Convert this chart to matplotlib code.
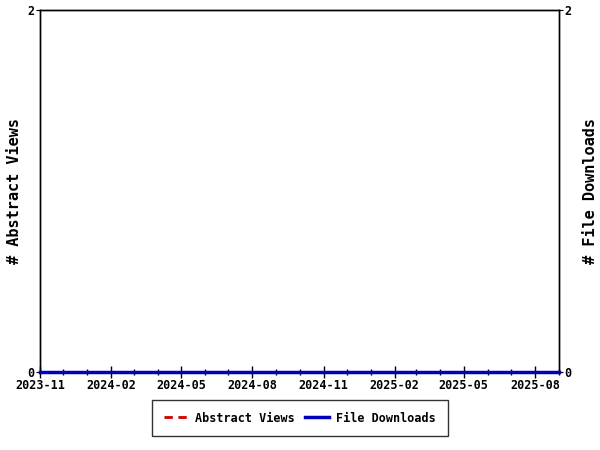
import matplotlib
matplotlib.use("Agg")
import matplotlib.pyplot as plt
import matplotlib.dates as mdates
import pandas as pd

# monthly counts (all zero in the reference)
months = pd.date_range("2023-11-01", "2025-09-01", freq="MS")
abstract_views = [0] * len(months)
file_downloads = [0] * len(months)

plt.rcParams["font.family"] = "DejaVu Sans Mono"
plt.rcParams["font.weight"] = "bold"

fig = plt.figure(figsize=(6, 4.5), dpi=100)
ax = fig.add_axes([40 / 600, 1 - 372 / 450, 519 / 600, 362 / 450])
ax2 = ax.twinx()

l1, = ax.plot(months, abstract_views, color="#cc0000", lw=2, ls=(0, (3, 2)),
              label="Abstract Views", clip_on=False, zorder=5)
l2, = ax2.plot(months, file_downloads, color="#0000bb", lw=2.5,
               label="File Downloads", clip_on=False, zorder=5)

ax.set_xlim(months[0], months[-1])
ax.set_ylim(0, 2)
ax2.set_ylim(0, 2)
ax.set_yticks([0, 2])
ax2.set_yticks([0, 2])

ax.xaxis.set_major_locator(mdates.MonthLocator(bymonth=[2, 5, 8, 11]))
ax.xaxis.set_major_formatter(mdates.DateFormatter("%Y-%m"))
ax.xaxis.set_minor_locator(mdates.MonthLocator())

ax.tick_params(axis="x", which="major", direction="inout", length=8, width=1,
               labelsize=8.5, pad=1)
ax.tick_params(axis="x", which="minor", direction="inout", length=4, width=1)
ax.tick_params(axis="y", direction="out", length=3, labelsize=8.5, pad=1)
ax2.tick_params(axis="y", direction="out", length=3, labelsize=8.5, pad=1)

ax.set_ylabel("# Abstract Views", fontsize=11, fontweight="bold", labelpad=4)
ax2.set_ylabel("# File Downloads", fontsize=11, fontweight="bold", labelpad=8)

for a in (ax, ax2):
    for s in a.spines.values():
        s.set_linewidth(1)

leg = fig.legend(handles=[l1, l2], loc="center", ncol=2,
                 bbox_to_anchor=(300 / 600, 1 - 418 / 450),
                 frameon=True, fancybox=False, edgecolor="black",
                 fontsize=8.5, handlelength=2, columnspacing=0.9,
                 borderpad=1.0, handletextpad=0.6)
leg.get_frame().set_linewidth(1)

fig.savefig("out.png", dpi=100)
